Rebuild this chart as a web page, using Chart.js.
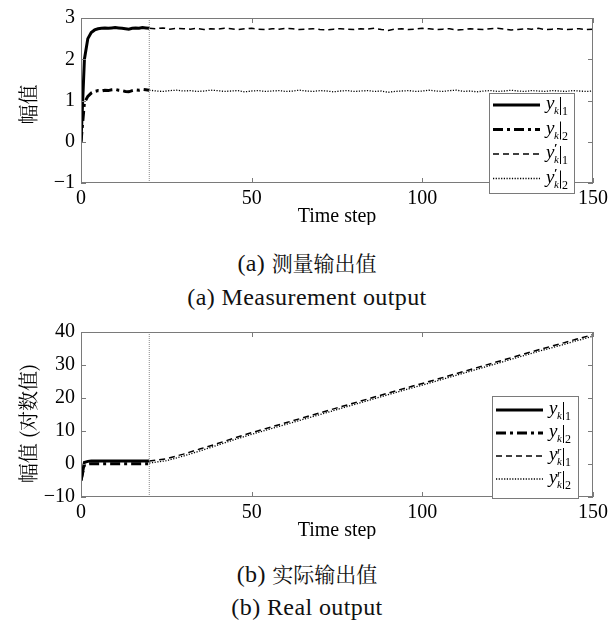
<!DOCTYPE html>
<html><head><meta charset="utf-8">
<script src="https://cdn.jsdelivr.net/npm/chart.js@4.4.0/dist/chart.umd.min.js"></script>
<style>
html,body{margin:0;padding:0;background:#fff;width:614px;height:620px;overflow:hidden;position:relative}
.wrap{position:absolute;left:0;width:614px}
.cap{position:absolute;left:0;width:614px;text-align:center;font-family:"Liberation Serif","DejaVu Serif",serif;font-size:24px;letter-spacing:0.4px;color:#111;line-height:28px;white-space:nowrap}
.cjk{font-family:"Noto Serif CJK SC","Noto Sans CJK SC",sans-serif;font-size:21px;letter-spacing:0}
</style></head><body>
<div class="wrap" style="top:0;height:225px"><canvas id="cA" width="614" height="225"></canvas></div>
<div class="cap" style="top:248px">(a) <span class="cjk">测量输出值</span></div>
<div class="cap" style="top:283px">(a) Measurement output</div>
<div class="wrap" style="top:314px;height:225px"><canvas id="cB" width="614" height="225"></canvas></div>
<div class="cap" style="top:559px">(b) <span class="cjk">实际输出值</span></div>
<div class="cap" style="top:593px">(b) Real output</div>
<script>
'use strict';
const INK='#000',FRAME='#7a7a7a',VLINE='#888';
const SERIF='"Liberation Serif","DejaVu Serif",serif';
const CJK='"Noto Serif CJK SC","Noto Sans CJK SC",sans-serif';

// time steps
const T_EARLY=[0,1,2,3,4,5,6,7,8,9,10,11,12,13,14,15,16,17,18,19,20];
const T_LATE=[20,22,24,26,28,30,32,34,36,38,40,42,44,46,48,50,52,54,56,58,60,62,64,66,68,70,72,74,76,78,80,82,84,86,88,90,92,94,96,98,100,102,104,106,108,110,112,114,116,118,120,122,124,126,128,130,132,134,136,138,140,142,144,146,148,150];
const T_LOG=[20,25,30,35,40,45,50,55,60,65,70,75,80,85,90,95,100,105,110,115,120,125,130,135,140,145,150];
const SWITCH_T=[20];

// (a) measurement output
const YK1=[0,2.0,2.5,2.65,2.71,2.74,2.75,2.76,2.75,2.76,2.77,2.76,2.75,2.74,2.73,2.75,2.76,2.75,2.77,2.76,2.75];
const YK2=[0,0.95,1.1,1.18,1.22,1.24,1.23,1.25,1.24,1.26,1.27,1.25,1.24,1.22,1.21,1.24,1.26,1.25,1.27,1.26,1.25];
const YP1=[2.75,2.74,2.76,2.73,2.75,2.74,2.73,2.75,2.72,2.74,2.73,2.75,2.74,2.72,2.74,2.75,2.73,2.72,2.74,2.73,2.75,2.74,2.72,2.73,2.74,2.72,2.71,2.73,2.74,2.73,2.72,2.74,2.73,2.75,2.72,2.70,2.73,2.74,2.72,2.73,2.75,2.74,2.72,2.73,2.74,2.71,2.72,2.74,2.73,2.72,2.74,2.75,2.73,2.71,2.72,2.74,2.73,2.75,2.72,2.73,2.74,2.72,2.73,2.74,2.72,2.73];
const YP2=[1.25,1.23,1.22,1.24,1.25,1.23,1.24,1.22,1.23,1.25,1.24,1.22,1.23,1.24,1.21,1.23,1.24,1.22,1.23,1.24,1.22,1.23,1.25,1.23,1.22,1.24,1.23,1.21,1.23,1.24,1.22,1.23,1.24,1.22,1.23,1.20,1.22,1.23,1.24,1.22,1.23,1.25,1.23,1.22,1.24,1.25,1.22,1.23,1.21,1.23,1.24,1.22,1.23,1.25,1.23,1.22,1.24,1.23,1.22,1.24,1.23,1.22,1.24,1.23,1.22,1.23];
const RANGE_A=[-1,3];

// (b) real output (log)
const LK1=[-5.0,0.5,0.8,0.9,0.9,0.9,0.9,0.9,0.9,0.9,0.9,0.9,0.9,0.9,0.9,0.9,0.9,0.9,0.9,0.9,0.9];
const LK2=[-5.0,-0.2,0.0,0.1,0.1,0.1,0.1,0.1,0.1,0.1,0.1,0.1,0.1,0.1,0.1,0.1,0.1,0.1,0.1,0.1,0.1];
const LR1=[0.9,1.6,3.0,4.6,6.2,7.9,9.5,11.0,12.5,14.0,15.5,17.0,18.5,20.0,21.5,23.0,24.4,25.9,27.4,28.9,30.4,31.9,33.4,34.9,36.3,37.8,39.2];
const LR2=[0.3,1.0,2.4,4.0,5.7,7.4,9.0,10.5,12.0,13.5,15.0,16.5,18.0,19.5,21.0,22.5,23.9,25.4,26.9,28.4,29.9,31.4,32.9,34.4,35.8,37.3,38.7];
const RANGE_B=[-10,40];

const pts=(xs,ys)=>xs.map((x,i)=>({x,y:ys[i]}));
const STY={
  solid:{borderWidth:3,borderDash:[]},
  dashdot:{borderWidth:3,borderDash:[10,4,3,4]},
  dashed:{borderWidth:1.5,borderDash:[6,4]},
  dotted:{borderWidth:1.3,borderDash:[1.2,1.5]}
};
function ds(data,st){return Object.assign({data,borderColor:INK,pointRadius:0,fill:false,tension:0,borderCapStyle:'butt'},STY[st]);}

// frame, inward ticks, titles and boxed legend
const decor={id:'decor',afterDraw(ch,a,o){
  const c=ch.ctx,ca=ch.chartArea,sx=ch.scales.x,sy=ch.scales.y;
  c.save();
  c.strokeStyle=FRAME;c.lineWidth=1;c.setLineDash([]);
  c.strokeRect(ca.left+.5,ca.top+.5,ca.right-ca.left-1,ca.bottom-ca.top-1);
  c.beginPath();
  sx.ticks.forEach(t=>{const x=Math.round(sx.getPixelForValue(t.value))+.5;c.moveTo(x,ca.bottom);c.lineTo(x,ca.bottom-5);c.moveTo(x,ca.top);c.lineTo(x,ca.top+5);});
  sy.ticks.forEach(t=>{const y=Math.round(sy.getPixelForValue(t.value))+.5;c.moveTo(ca.left,y);c.lineTo(ca.left+5,y);c.moveTo(ca.right,y);c.lineTo(ca.right-5,y);});
  c.stroke();
  // titles
  c.fillStyle=INK;c.textAlign='center';c.textBaseline='middle';
  c.font='20px '+SERIF;
  c.fillText('Time step',(ca.left+ca.right)/2,ca.bottom+34);
  c.save();c.translate(28,(ca.top+ca.bottom)/2+o.yoff);c.rotate(-Math.PI/2);
  c.font='20px '+CJK;c.fillText(o.ytitle,0,0);c.restore();
  // legend
  const L=o.legend;
  c.fillStyle='#fff';c.fillRect(L.x,L.y,L.w,L.h);
  c.strokeStyle=FRAME;c.strokeRect(L.x+.5,L.y+.5,L.w,L.h);
  L.items.forEach((it,i)=>{
    const yy=L.y+L.first+i*L.gap;
    c.strokeStyle=INK;c.lineWidth=STY[it.st].borderWidth;c.setLineDash(STY[it.st].borderDash);
    c.beginPath();c.moveTo(L.x+4,yy);c.lineTo(L.x+51,yy);c.stroke();c.setLineDash([]);
    const tx=L.x+57;
    c.fillStyle=INK;c.textAlign='left';c.textBaseline='alphabetic';
    c.font='italic 19px '+SERIF;c.fillText('y',tx,yy+4);
    if(it.sup){c.font=(it.sup==='r'?'italic 11px ':'bold 13px ')+SERIF;c.fillText(it.sup==='p'?'\u2032':'r',tx+8,yy-2);}
    c.font='italic 11px '+SERIF;c.fillText('k',tx+8,yy+9);
    c.lineWidth=1;c.beginPath();c.moveTo(tx+14.5,yy-8);c.lineTo(tx+14.5,yy+10);c.stroke();
    c.font='12px '+SERIF;c.fillText(it.sub,tx+16,yy+10);
  });
  c.restore();
}};

function makeChart(id,sets,range,ytitle,yoff,legend){
  new Chart(document.getElementById(id),{type:'line',
    data:{datasets:sets},
    options:{responsive:false,animation:false,
      layout:{padding:{left:0,right:21,top:14,bottom:0}},
      plugins:{legend:{display:false},tooltip:{enabled:false},decor:{ytitle,yoff,legend}},
      scales:{
        x:{type:'linear',min:0,max:150,afterFit:s=>{s.height=42;},grid:{display:false,drawTicks:false},border:{display:false},
           ticks:{stepSize:50,color:INK,font:{family:SERIF,size:20},padding:4,maxRotation:0,callback:v=>String(v)}},
        y:{min:range[0],max:range[1],afterFit:s=>{s.width=81;},grid:{display:false,drawTicks:false},border:{display:false},
           ticks:{stepSize:range[1]>10?10:1,color:INK,font:{family:SERIF,size:20},padding:6,callback:v=>v<0?'\u2212'+Math.abs(v):String(v)}}
      }},
    plugins:[decor]});
}

const LEG_ITEMS_A=[{st:'solid',sub:'1'},{st:'dashdot',sub:'2'},{st:'dashed',sub:'1',sup:'p'},{st:'dotted',sub:'2',sup:'p'}];
const LEG_ITEMS_B=[{st:'solid',sub:'1'},{st:'dashdot',sub:'2'},{st:'dashed',sub:'1',sup:'r'},{st:'dotted',sub:'2',sup:'r'}];

makeChart('cA',[
  Object.assign(ds(pts([SWITCH_T[0],SWITCH_T[0]],RANGE_A),'dotted'),{borderColor:VLINE,borderWidth:1,borderDash:[1,1]}),
  ds(pts(T_LATE,YP1),'dashed'),
  ds(pts(T_LATE,YP2),'dotted'),
  ds(pts(T_EARLY,YK1),'solid'),
  ds(pts(T_EARLY,YK2),'dashdot')
],RANGE_A,'幅值',4,{x:489,y:93,w:85,h:100,first:12,gap:24.5,items:LEG_ITEMS_A});

makeChart('cB',[
  Object.assign(ds(pts([SWITCH_T[0],SWITCH_T[0]],RANGE_B),'dotted'),{borderColor:VLINE,borderWidth:1,borderDash:[1,1]}),
  ds(pts(T_LOG,LR1),'dashed'),
  ds(pts(T_LOG,LR2),'dotted'),
  ds(pts(T_EARLY,LK1),'solid'),
  ds(pts(T_EARLY,LK2),'dashdot')
],RANGE_B,'幅值 (对数值)',9,{x:492,y:82,w:86,h:102,first:14,gap:23,items:LEG_ITEMS_B});
</script>
</body></html>
